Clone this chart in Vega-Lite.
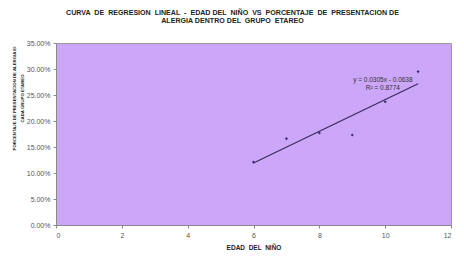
{
  "$schema": "https://vega.github.io/schema/vega-lite/v6.json",
  "autosize": "none",
  "width": 395,
  "height": 182,
  "padding": {"left": 56, "top": 43, "right": 13, "bottom": 35},
  "background": "white",
  "title": {
    "text": ["CURVA \u00a0DE \u00a0REGRESION \u00a0LINEAL \u00a0- \u00a0EDAD DEL \u00a0NIÑO \u00a0VS \u00a0PORCENTAJE \u00a0DE \u00a0PRESENTACION DE", "ALERGIA DENTRO DEL \u00a0GRUPO \u00a0ETAREO"],
    "font": "Liberation Sans",
    "fontSize": 7.1,
    "fontWeight": "bold",
    "color": "#222222",
    "lineHeight": 7.5,
    "anchor": "middle",
    "frame": "group",
    "dx": -21,
    "offset": 15
  },
  "datasets": {
    "points": [
      {"edad": 6, "pct": 0.121},
      {"edad": 7, "pct": 0.166},
      {"edad": 8, "pct": 0.177},
      {"edad": 9, "pct": 0.173},
      {"edad": 10, "pct": 0.237},
      {"edad": 11, "pct": 0.295}
    ],
    "trend": [
      {"edad": 6, "pct": 0.1192},
      {"edad": 11, "pct": 0.2717}
    ],
    "notes": [
      {"edad": 9.93, "pct": 0.279, "label": "y = 0.0305x - 0.0638"},
      {"edad": 9.93, "pct": 0.2635, "label": "R² = 0.8774"}
    ]
  },
  "config": {
    "view": {"fill": "#CCA6F8", "stroke": "#9A9A9A", "strokeWidth": 1},
    "axis": {
      "grid": false,
      "domainColor": "#8A8A8A",
      "tickColor": "#8A8A8A",
      "tickSize": 3,
      "labelFont": "Liberation Sans",
      "labelFontSize": 7,
      "labelColor": "#555555",
      "labelOverlap": false,
      "titleFont": "Liberation Sans",
      "titleFontSize": 6.5,
      "titleFontWeight": "bold",
      "titleColor": "#222222"
    }
  },
  "encoding": {
    "x": {
      "field": "edad", "type": "quantitative",
      "scale": {"domain": [0, 12], "nice": false},
      "axis": {"values": [0, 2, 4, 6, 8, 10, 12], "title": "EDAD \u00a0DEL \u00a0NIÑO", "titlePadding": 6, "labelPadding": 3, "labelOverlap": false}
    },
    "y": {
      "field": "pct", "type": "quantitative",
      "scale": {"domain": [0, 0.35], "nice": false},
      "axis": {
        "values": [0, 0.05, 0.1, 0.15, 0.2, 0.25, 0.3, 0.35],
        "format": ".2%",
        "labelOverlap": false,
        "title": ["PORCENTAJE DE PRESENTACION DE ALERGIA EI", "CADA GRUPO ETAREO"],
        "titleFontSize": 4.3,
        "titleLineHeight": 8,
        "titleAngle": -90,
        "titleX": -40,
        "titleY": 55,
        "titleAlign": "center",
        "titleBaseline": "bottom",
        "labelPadding": 3
      }
    }
  },
  "layer": [
    {
      "data": {"name": "trend"},
      "mark": {"type": "line", "color": "#3B2D5C", "strokeWidth": 1.3}
    },
    {
      "data": {"name": "points"},
      "mark": {"type": "point", "shape": "diamond", "filled": true, "color": "#3E2F78", "size": 10, "opacity": 1}
    },
    {
      "data": {"name": "notes"},
      "mark": {"type": "text", "font": "Liberation Sans", "fontSize": 6.5, "color": "#333333", "align": "center", "baseline": "middle"},
      "encoding": {
        "text": {"field": "label"}
      }
    }
  ]
}
